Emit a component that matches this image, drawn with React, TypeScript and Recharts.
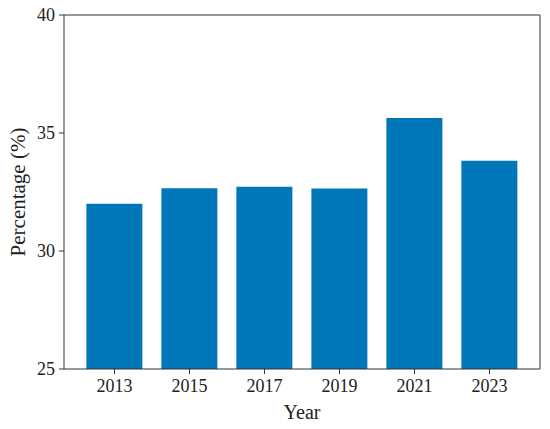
import { BarChart, Bar, XAxis, YAxis } from 'recharts';

const years = ['2013', '2015', '2017', '2019', '2021', '2023'];
const percentages = [32.0, 32.66, 32.72, 32.65, 35.64, 33.82];
const yTicks = [25, 30, 35, 40];

const data = years.map((year, i) => ({ year, value: percentages[i] }));

const FONT = '"Liberation Serif", "DejaVu Serif", serif';
const INK = '#222';
const AXIS = '#333';

export default function App() {
  return (
    <div style={{ position: 'fixed', left: 0, top: 0, width: 550, height: 429, background: '#fff' }}>
      <BarChart
        width={550}
        height={429}
        data={data}
        margin={{ top: 14, right: 9, bottom: 0, left: 0 }}
        barCategoryGap="12.5%"
      >
        <XAxis
          dataKey="year"
          height={60}
          padding={{ left: 13, right: 13 }}
          stroke={AXIS}
          tickSize={5}
          tickMargin={5}
          tick={{ fontSize: 18, fill: INK, fontFamily: FONT }}
          label={{
            content: (props: any) => {
              const { x, width } = props.viewBox;
              return (
                <text x={x + width / 2} y={419} textAnchor="middle" fontSize={20} fill={INK} fontFamily={FONT}>
                  Year
                </text>
              );
            },
          }}
        />
        <XAxis xAxisId="top" dataKey="year" orientation="top" height={1} tick={false} tickLine={false} stroke={AXIS} />
        <YAxis
          domain={[25, 40]}
          ticks={yTicks}
          width={64}
          stroke={AXIS}
          tickSize={5}
          tickMargin={4}
          tick={{ fontSize: 18, fill: INK, fontFamily: FONT }}
          label={{
            content: (props: any) => {
              const { x, y, height } = props.viewBox;
              const cx = x + 18;
              const cy = y + height / 2;
              return (
                <text
                  x={cx}
                  y={cy}
                  transform={`rotate(-90 ${cx} ${cy})`}
                  textAnchor="middle"
                  dominantBaseline="central"
                  fontSize={21}
                  fill={INK}
                  fontFamily={FONT}
                >
                  Percentage (%)
                </text>
              );
            },
          }}
        />
        <YAxis yAxisId="right" orientation="right" width={1} domain={[25, 40]} tick={false} tickLine={false} stroke={AXIS} />
        <Bar dataKey="value" fill="#0077b8" isAnimationActive={false} />
      </BarChart>
    </div>
  );
}
